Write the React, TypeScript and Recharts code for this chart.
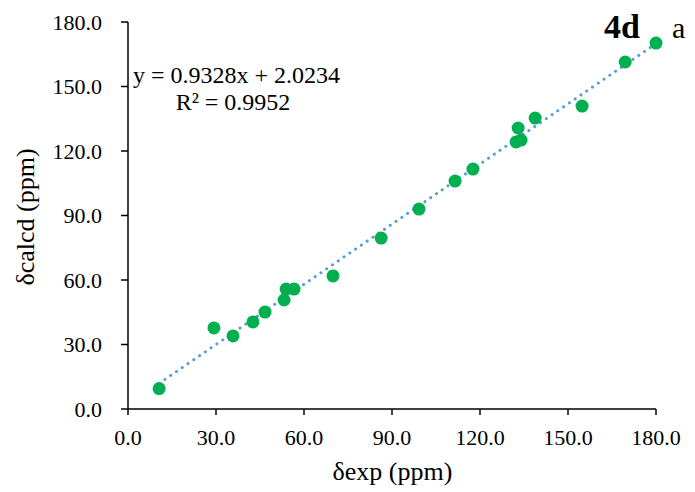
import { ScatterChart, Scatter, XAxis, YAxis, ReferenceLine } from "recharts";

const expValues = [
  10.6, 29.3, 35.8, 42.6, 46.7, 53.2, 53.9, 56.6, 69.9, 86.3, 99.2, 111.5, 117.6,
  132.3, 134.0, 133.0, 138.8, 154.8, 169.5, 180.0,
];
const calcdValues = [
  9.5, 37.7, 34.0, 40.5, 45.1, 50.7, 55.8, 55.8, 61.9, 79.5, 93.0, 106.0, 111.6,
  124.2, 125.1, 130.7, 135.3, 140.9, 161.4, 170.2,
];
const axisTicks = [0, 30, 60, 90, 120, 150, 180];

// trendline from the fitted equation shown on the chart
const slope = 0.9328;
const intercept = 2.0234;

const points = expValues.map((x, i) => ({ x, y: calcdValues[i] }));
const xMin = Math.min(...expValues);
const xMax = Math.max(...expValues);

const font = '"Liberation Serif", "Times New Roman", serif';
const tickStyle = { fontSize: 22, fill: "#000", fontFamily: font };

const Dot = (props: any) => <circle cx={props.cx} cy={props.cy} r={6.5} fill="#00b050" />;

const App = () => {
  return (
    <div style={{ position: "absolute", left: 0, top: 0, width: 695, height: 492, background: "#fff", fontFamily: font }}>
      <ScatterChart width={695} height={492} margin={{ top: 22, right: 39, left: 0, bottom: 0 }}>
        <XAxis
          type="number"
          dataKey="x"
          domain={[0, 180]}
          ticks={axisTicks}
          tickFormatter={(v: number) => v.toFixed(1)}
          tick={tickStyle}
          axisLine={{ stroke: "#000", strokeWidth: 1.5 }}
          tickLine={{ stroke: "#000", strokeWidth: 1.5 }}
          tickSize={6}
          tickMargin={14}
          height={83}
          interval={0}
        />
        <YAxis
          type="number"
          dataKey="y"
          domain={[0, 180]}
          ticks={axisTicks}
          tickFormatter={(v: number) => v.toFixed(1)}
          tick={tickStyle}
          axisLine={{ stroke: "#000", strokeWidth: 1.5 }}
          tickLine={{ stroke: "#000", strokeWidth: 1.5 }}
          tickSize={7}
          tickMargin={19}
          width={128}
          interval={0}
        />
        <Scatter data={points} shape={<Dot />} isAnimationActive={false} />
        <ReferenceLine
          segment={[
            { x: xMin, y: slope * xMin + intercept },
            { x: xMax, y: slope * xMax + intercept },
          ]}
          stroke="#5b9bd5"
          strokeWidth={3}
          strokeDasharray="0.1 6.9"
          strokeLinecap="round"
          ifOverflow="visible"
        />
      </ScatterChart>
      <div
        style={{
          position: "absolute",
          left: 133,
          top: 61.5,
          width: 200,
          fontSize: 24,
          lineHeight: "27px",
          textAlign: "center",
          whiteSpace: "nowrap",
        }}
      >
        y = 0.9328x + 2.0234
        <br />
        R² = 0.9952
      </div>
      <div style={{ position: "absolute", left: 604, top: 8.5, fontSize: 34, fontWeight: "bold", lineHeight: "36px" }}>4d</div>
      <div style={{ position: "absolute", left: 672, top: 10, fontSize: 30, lineHeight: "36px" }}>a</div>
      <div
        style={{
          position: "absolute",
          left: 0,
          top: 457,
          width: 785,
          textAlign: "center",
          fontSize: 26,
          lineHeight: "30px",
          whiteSpace: "nowrap",
        }}
      >
        δexp (ppm)
      </div>
      <div
        style={{
          position: "absolute",
          left: 26,
          top: 217,
          fontSize: 26,
          lineHeight: "30px",
          whiteSpace: "nowrap",
          transform: "translate(-50%, -50%) rotate(-90deg)",
        }}
      >
        δcalcd (ppm)
      </div>
    </div>
  );
};

export default App;
